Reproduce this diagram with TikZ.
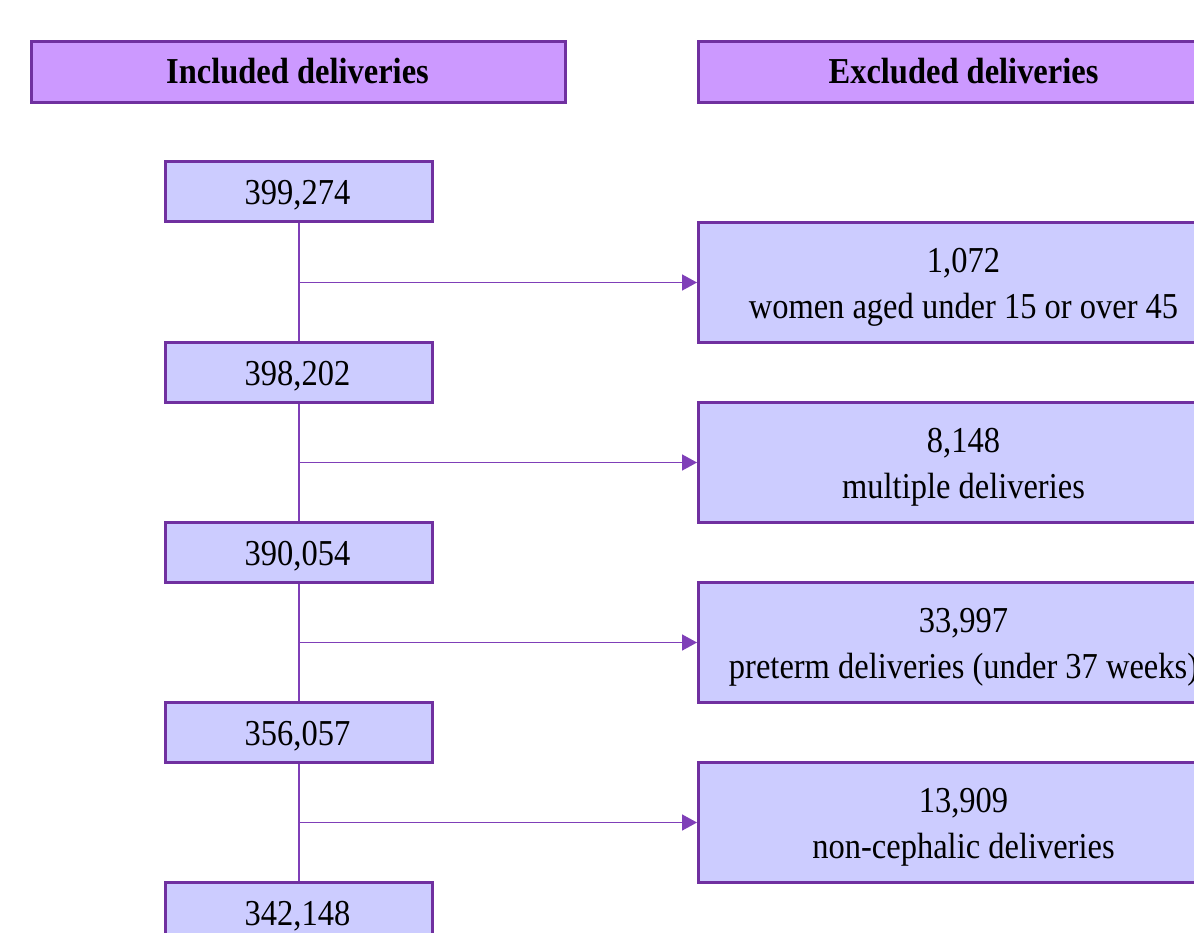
\documentclass[tikz,border=0pt]{standalone}
\usepackage{fontspec}
\setmainfont{Liberation Serif}[FakeStretch=0.89]
\usetikzlibrary{arrows.meta}
\definecolor{edgeclr}{HTML}{7030A0}
\definecolor{hdrfill}{HTML}{CC99FF}
\definecolor{boxfill}{HTML}{CCCCFF}
\definecolor{lineclr}{HTML}{7F3FB8}
\tikzset{
  hdrbox/.style={draw=edgeclr, fill=hdrfill, line width=3pt, anchor=north west, inner sep=0pt, minimum height=61pt},
  incbox/.style={draw=edgeclr, fill=boxfill, line width=3pt, anchor=north west, inner sep=0pt, minimum width=267pt, minimum height=60pt},
  excbox/.style={draw=edgeclr, fill=boxfill, line width=3pt, anchor=north west, inner sep=0pt, minimum width=533pt, minimum height=120pt},
  txt/.style={anchor=base, inner sep=0pt, font=\fontsize{36.5}{44}\selectfont},
  hdrtxt/.style={anchor=base, inner sep=0pt, font=\fontsize{36.5}{44}\selectfont\bfseries},
  conn/.style={draw=lineclr, line width=1.5pt},
  arr/.style={conn, -{Triangle[length=15pt,width=16pt]}}
}
\begin{document}
\begin{tikzpicture}[x=1pt,y=-1pt]
\useasboundingbox (0,0) rectangle (1194,932);
\clip (0,0) rectangle (1194,932);
\fill[white] (0,0) rectangle (1194,932);

% headers
\node[hdrbox, minimum width=534pt] (hinc) at (30,40) {};
\node[hdrbox, minimum width=533pt] (hexc) at (697,40) {};
\node[hdrtxt] (hinct) at (297.5,83) {Included deliveries};
\node[hdrtxt] (hexct) at (963.5,83) {Excluded deliveries};

% included boxes
\node[incbox] (b1) at (164,160) {};
\node[incbox] (b2) at (164,341) {};
\node[incbox] (b3) at (164,521) {};
\node[incbox] (b4) at (164,701) {};
\node[incbox] (b5) at (164,881) {};
\node[txt] (t1) at (297.5,204) {399,274};
\node[txt] (t2) at (297.5,385) {398,202};
\node[txt] (t3) at (297.5,565) {390,054};
\node[txt] (t4) at (297.5,745) {356,057};
\node[txt] (t5) at (297.5,925) {342,148};

% excluded boxes
\node[excbox] (e1) at (697,221) {};
\node[excbox] (e2) at (697,401) {};
\node[excbox] (e3) at (697,581) {};
\node[excbox] (e4) at (697,761) {};
\node[txt] (e1a) at (963.5,272) {1,072};
\node[txt] (e1b) at (963.5,318) {women aged under 15 or over 45};
\node[txt] (e2a) at (963.5,452) {8,148};
\node[txt] (e2b) at (963.5,498) {multiple deliveries};
\node[txt] (e3a) at (963.5,632) {33,997};
\node[txt] (e3b) at (963.5,678) {preterm deliveries (under 37 weeks)};
\node[txt] (e4a) at (963.5,812) {13,909};
\node[txt] (e4b) at (963.5,858) {non-cephalic deliveries};

% vertical connectors
\draw[conn] (b1.south) -- (b2.north);
\draw[conn] (b2.south) -- (b3.north);
\draw[conn] (b3.south) -- (b4.north);
\draw[conn] (b4.south) -- (b5.north);

% branch points and arrows
\coordinate (c1) at (b1.south |- e1.west);
\coordinate (c2) at (b2.south |- e2.west);
\coordinate (c3) at (b3.south |- e3.west);
\coordinate (c4) at (b4.south |- e4.west);
\draw[arr] (c1) -- (e1.west);
\draw[arr] (c2) -- (e2.west);
\draw[arr] (c3) -- (e3.west);
\draw[arr] (c4) -- (e4.west);
\end{tikzpicture}
\end{document}
